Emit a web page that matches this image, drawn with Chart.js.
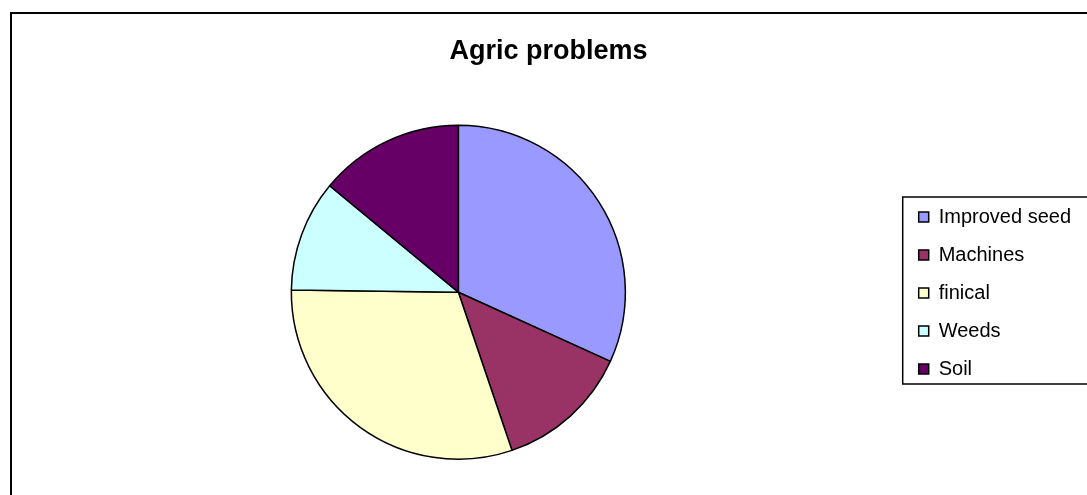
<!DOCTYPE html>
<html>
<head>
<meta charset="utf-8">
<script src="https://cdn.jsdelivr.net/npm/chart.js@4.4.1/dist/chart.umd.min.js"></script>
<style>
  html, body { margin: 0; padding: 0; background: #fff; overflow: hidden; }
  canvas { display: block; }
</style>
</head>
<body>
<canvas id="pieChart" width="1087" height="495"></canvas>
<script>
const categories = ["Improved seed", "Machines", "finical", "Weeds", "Soil"];
const shares = [31.8, 13.0, 30.4, 10.8, 14.0];
const sliceColors = ["#9999FF", "#993366", "#FFFFCC", "#CCFFFF", "#660066"];
const chartTitle = "Agric problems";

// outer frame and the box round the legend, like the old office chart
const framePlugin = {
  id: "frame",
  afterDraw(chart) {
    const ctx = chart.ctx;
    ctx.save();
    ctx.strokeStyle = "#000";
    ctx.lineWidth = 2;
    ctx.strokeRect(11, 13, 2000, 2000);

    const boxes = chart.legend.legendHitBoxes;
    if (boxes && boxes.length) {
      const first = boxes[0];
      const last = boxes[boxes.length - 1];
      const top = first.top - 10;
      const bottom = last.top + last.height + 5;
      ctx.lineWidth = 1.5;
      ctx.strokeRect(first.left - 16, top, 2000, bottom - top);
    }
    ctx.restore();
  }
};

const ctx = document.getElementById("pieChart").getContext("2d");
new Chart(ctx, {
  type: "pie",
  data: {
    labels: categories,
    datasets: [{
      data: shares,
      backgroundColor: sliceColors,
      borderColor: "#000",
      borderWidth: 1.5,
      radius: 167
    }]
  },
  options: {
    responsive: false,
    animation: false,
    devicePixelRatio: 1,
    layout: {
      padding: { left: 16, right: 6, top: 12, bottom: 21 }
    },
    plugins: {
      title: {
        display: true,
        text: chartTitle,
        color: "#000",
        font: { family: "'Liberation Sans', Arial, sans-serif", size: 27, weight: "bold" },
        padding: { top: 23, bottom: 43 }
      },
      legend: {
        position: "right",
        // blank title only pushes the entries down to where the reference has them
        title: {
          display: true,
          text: " ",
          font: { size: 12 },
          padding: { top: 0, bottom: 85.6 }
        },
        labels: {
          color: "#000",
          boxWidth: 10,
          boxHeight: 10,
          padding: 18,
          font: { family: "'Liberation Sans', Arial, sans-serif", size: 20 }
        }
      },
      tooltip: { enabled: false }
    },
    events: []
  },
  plugins: [framePlugin]
});
</script>
</body>
</html>
